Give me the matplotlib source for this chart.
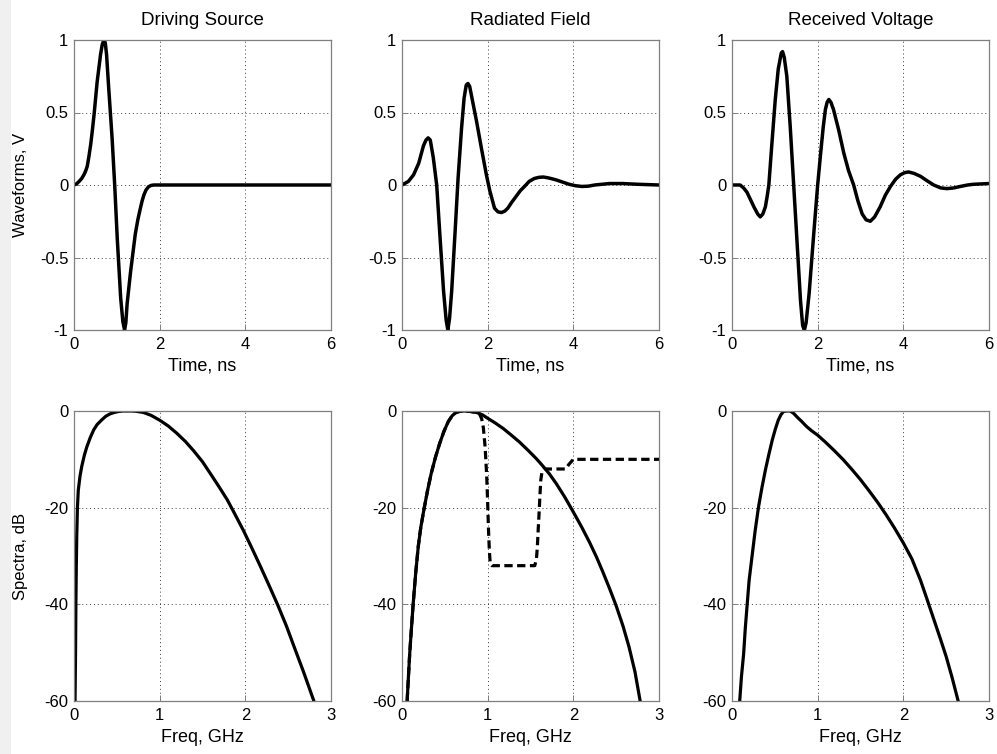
import matplotlib
matplotlib.use("Agg")
import matplotlib.pyplot as plt
from matplotlib.patches import Rectangle

plt.rcParams['font.family'] = ['Liberation Sans', 'DejaVu Sans']

# ---------------- data ----------------
titles = ["Driving Source", "Radiated Field", "Received Voltage"]
ylabel_top = "Waveforms, V"
ylabel_bot = "Spectra, dB"
xlabel_top = "Time, ns"
xlabel_bot = "Freq, GHz"

time_ticks = [0, 2, 4, 6]
wave_ticks = [1, 0.5, 0, -0.5, -1]
wave_ticklabels = ["1", "0.5", "0", "-0.5", "-1"]
freq_ticks = [0, 1, 2, 3]
spec_ticks = [0, -20, -40, -60]
spec_ticklabels = ["0", "-20", "-40", "-60"]

# Driving source waveform
src_t = [0, 0.06, 0.12, 0.18, 0.23, 0.27, 0.31, 0.35, 0.39, 0.43, 0.47, 0.54, 0.62,
         0.66, 0.70, 0.73, 0.76, 0.81, 0.89, 0.95, 1.01, 1.09, 1.14, 1.18, 1.21,
         1.24, 1.32, 1.43, 1.49, 1.55, 1.59, 1.63, 1.68, 1.74, 1.80, 1.86, 6.0]
src_v = [0, 0.008, 0.025, 0.045, 0.07, 0.095, 0.13, 0.20, 0.28, 0.38, 0.49, 0.71, 0.90,
         0.97, 1.0, 0.98, 0.90, 0.67, 0.32, 0.0, -0.37, -0.78, -0.94, -1.0, -0.95,
         -0.82, -0.60, -0.34, -0.24, -0.16, -0.11, -0.07, -0.035, -0.012, -0.003, 0, 0]

# Radiated field waveform
rad_t = [0, 0.15, 0.27, 0.39, 0.50, 0.56, 0.61, 0.66, 0.73, 0.81, 0.89, 0.97, 1.03,
         1.07, 1.11, 1.16, 1.24, 1.31, 1.39, 1.45, 1.50, 1.54, 1.58, 1.62, 1.68,
         1.74, 1.85, 1.97, 2.05, 2.16, 2.24, 2.32, 2.40, 2.47, 2.56, 2.66, 2.76,
         2.86, 2.97, 3.09, 3.20, 3.30, 3.40, 3.50, 3.60, 3.75, 3.90, 4.05, 4.20,
         4.35, 4.50, 4.84, 5.15, 5.50, 6.0]
rad_v = [0, 0.025, 0.07, 0.15, 0.27, 0.31, 0.325, 0.31, 0.19, 0.0, -0.37, -0.73, -0.93,
         -1.0, -0.92, -0.73, -0.32, 0.05, 0.39, 0.60, 0.69, 0.70, 0.68, 0.62, 0.53,
         0.44, 0.26, 0.07, -0.04, -0.16, -0.185, -0.19, -0.18, -0.16, -0.12, -0.08, -0.04,
         -0.01, 0.025, 0.045, 0.053, 0.055, 0.05, 0.043, 0.035, 0.02, 0.005, -0.005, -0.01,
         -0.008, 0.0, 0.01, 0.01, 0.005, 0.0]

# Received voltage waveform
rec_t = [0, 0.19, 0.27, 0.35, 0.43, 0.51, 0.60, 0.66, 0.72, 0.78, 0.82, 0.86, 0.93,
         1.01, 1.08, 1.15, 1.18, 1.22, 1.28, 1.36, 1.44, 1.52, 1.60, 1.65, 1.69,
         1.73, 1.80, 1.91, 2.00, 2.07, 2.13, 2.18, 2.22, 2.26, 2.31, 2.37, 2.49,
         2.61, 2.72, 2.84, 2.94, 3.04, 3.13, 3.23, 3.33, 3.46, 3.58, 3.70, 3.82,
         3.93, 4.03, 4.12, 4.25, 4.40, 4.55, 4.71, 4.87, 5.02, 5.18, 5.33, 5.50,
         5.64, 6.0]
rec_v = [0, 0.0, -0.02, -0.05, -0.10, -0.15, -0.20, -0.22, -0.20, -0.15, -0.08, 0.0, 0.28,
         0.59, 0.80, 0.91, 0.92, 0.88, 0.75, 0.40, 0.0, -0.40, -0.80, -0.97, -1.0,
         -0.95, -0.75, -0.33, 0.0, 0.22, 0.40, 0.52, 0.57, 0.59, 0.57, 0.52, 0.38,
         0.22, 0.10, 0.0, -0.11, -0.20, -0.24, -0.25, -0.22, -0.15, -0.07, -0.01, 0.04,
         0.07, 0.085, 0.09, 0.08, 0.06, 0.03, 0.0, -0.02, -0.025, -0.02, -0.01, 0.0,
         0.005, 0.01]

# Spectra (dB)
src_f = [0.012, 0.018, 0.022, 0.027, 0.032, 0.04, 0.05, 0.07, 0.09, 0.12, 0.15, 0.19,
         0.23, 0.27, 0.32, 0.37, 0.42, 0.47, 0.52, 0.57, 0.62, 0.67, 0.72, 0.81,
         0.90, 1.0, 1.1, 1.2, 1.3, 1.4, 1.5, 1.59, 1.69, 1.79, 1.88, 1.98, 2.08,
         2.18, 2.28, 2.38, 2.48, 2.57, 2.68, 2.80]
src_db = [-60, -50, -40, -32, -26, -20, -16.4, -13.5, -11.5, -9.2, -7.4, -5.5,
          -3.9, -2.8, -1.9, -1.1, -0.6, -0.3, -0.1, 0, 0, 0, -0.05, -0.3,
          -0.9, -1.9, -3.1, -4.6, -6.3, -8.3, -10.5, -12.9, -15.6, -18.4, -21.4, -24.8, -28.5,
          -32.3, -36.2, -40.2, -44.5, -48.8, -54, -60]

rad_f = [0.06, 0.075, 0.09, 0.11, 0.13, 0.16, 0.19, 0.22, 0.26, 0.30, 0.34, 0.39,
         0.44, 0.49, 0.54, 0.585, 0.63, 0.68, 0.73, 0.80, 0.87, 0.94, 1.0, 1.09,
         1.18, 1.27, 1.37, 1.47, 1.57, 1.64, 1.72, 1.80, 1.90, 2.0, 2.1, 2.19,
         2.27, 2.34, 2.42, 2.50, 2.58, 2.65, 2.72, 2.78]
rad_db = [-60, -55, -50.2, -45, -40, -33.5, -28, -24, -20, -16.3, -13, -9.6,
          -6.7, -4.2, -2.2, -1.0, -0.3, -0.05, 0, -0.1, -0.3, -0.8, -1.5, -2.5,
          -3.6, -4.9, -6.4, -8.1, -9.9, -11.3, -13.0, -15, -17.8, -20.9, -24.1, -27.2,
          -30.2, -33.1, -36.6, -40.3, -44.5, -48.8, -54, -60]

rad2_f = [0.06, 0.075, 0.09, 0.11, 0.13, 0.16, 0.19, 0.22, 0.26, 0.30, 0.34, 0.39,
          0.44, 0.49, 0.54, 0.585, 0.63, 0.68, 0.73, 0.80, 0.87, 0.905, 0.93, 0.95,
          0.97, 0.98, 0.99, 1.0, 1.01, 1.02, 1.03, 1.05, 1.55, 1.57, 1.58, 1.59,
          1.60, 1.61, 1.62, 1.635, 1.66, 1.91, 1.95, 2.0, 3.0]
rad2_db = [-60, -55, -50.2, -45, -40, -33.5, -28, -24, -20, -16.3, -13, -9.6,
           -6.7, -4.2, -2.2, -1.0, -0.3, -0.05, 0, -0.1, -0.3, -0.6, -1.6, -3.5,
           -7.4, -10.5, -14, -19, -24.7, -29, -31.5, -32, -32, -30.5, -28.1, -24.5,
           -21.2, -17.5, -14.3, -12.5, -12, -12, -11, -10, -10]

rec_f = [0.09, 0.11, 0.136, 0.155, 0.175, 0.20, 0.233, 0.27, 0.31, 0.35, 0.39, 0.43,
         0.47, 0.505, 0.54, 0.57, 0.60, 0.64, 0.68, 0.72, 0.757, 0.81, 0.87, 0.93,
         1.0, 1.1, 1.2, 1.3, 1.4, 1.5, 1.6, 1.7, 1.8, 1.9, 2.0, 2.1,
         2.2, 2.27, 2.35, 2.43, 2.50, 2.57, 2.64]
rec_db = [-60, -55, -50.2, -45, -40.5, -35, -30.2, -24.8, -19.8, -15.8, -12.2, -9,
          -6, -3.8, -1.9, -0.8, -0.1, 0, 0, -0.5, -1.2, -2.1, -3.2, -4.1,
          -5.0, -6.6, -8.3, -10.1, -12.1, -14.2, -16.5, -18.9, -21.5, -24.3, -27.3, -30.6,
          -35.0, -38.6, -42.8, -47.0, -50.8, -55.2, -60]

# ---------------- figure ----------------
W, H = 997, 754
fig = plt.figure(figsize=(W / 100, H / 100), dpi=100)
fig.patch.set_facecolor('white')
fig.add_artist(Rectangle((0, 0), 11 / W, 1, transform=fig.transFigure,
                         facecolor='#f0f0f0', edgecolor='none', zorder=0))

lefts = [74, 402, 732]
aw = 257
top_y0, bot_y0 = 40, 411
ah = 290

def make_ax(xpix, ypix):
    return fig.add_axes([xpix / W, 1 - (ypix + ah) / H, aw / W, ah / H])

def style(ax):
    for s in ax.spines.values():
        s.set_color('#7f7f7f')
        s.set_linewidth(0.9)
    ax.tick_params(direction='in', length=4, width=0.7, color='#7f7f7f',
                   labelsize=12, top=False, right=False)
    ax.tick_params(axis='x', pad=5)
    ax.tick_params(axis='y', pad=4)
    ax.grid(True, color='#404040', linestyle=(0, (1, 3)), linewidth=0.7)
    ax.set_axisbelow(True)

waves = [(src_t, src_v), (rad_t, rad_v), (rec_t, rec_v)]
specs = [[(src_f, src_db, '-')], [(rad_f, rad_db, '-'), (rad2_f, rad2_db, 'dash')],
         [(rec_f, rec_db, '-')]]

for i in range(3):
    ax = make_ax(lefts[i], top_y0)
    style(ax)
    ax.plot(waves[i][0], waves[i][1], color='black', lw=2.5,
            solid_joinstyle='round', solid_capstyle='round')
    ax.set_xlim(0, 6)
    ax.set_ylim(-1, 1)
    ax.set_xticks(time_ticks)
    ax.set_yticks(wave_ticks)
    ax.set_yticklabels(wave_ticklabels)
    ax.set_title(titles[i], fontsize=13.5, pad=11)
    ax.set_xlabel(xlabel_top, fontsize=13, labelpad=4)
    if i == 0:
        ax.set_ylabel(ylabel_top, fontsize=12)
        ax.yaxis.set_label_coords(-0.18, 0.5)

    ax2 = make_ax(lefts[i], bot_y0)
    style(ax2)
    for f, d, ls in specs[i]:
        if ls == 'dash':
            ax2.plot(f, d, color='black', lw=2.3, linestyle=(0, (2.6, 1.4)))
        else:
            ax2.plot(f, d, color='black', lw=2.3, solid_joinstyle='round')
    ax2.set_xlim(0, 3)
    ax2.set_ylim(-60, 0)
    ax2.set_xticks(freq_ticks)
    ax2.set_yticks(spec_ticks)
    ax2.set_yticklabels(spec_ticklabels)
    ax2.set_xlabel(xlabel_bot, fontsize=13, labelpad=4)
    if i == 0:
        ax2.set_ylabel(ylabel_bot, fontsize=12)
        ax2.yaxis.set_label_coords(-0.18, 0.5)

fig.savefig('out.png', dpi=100)
